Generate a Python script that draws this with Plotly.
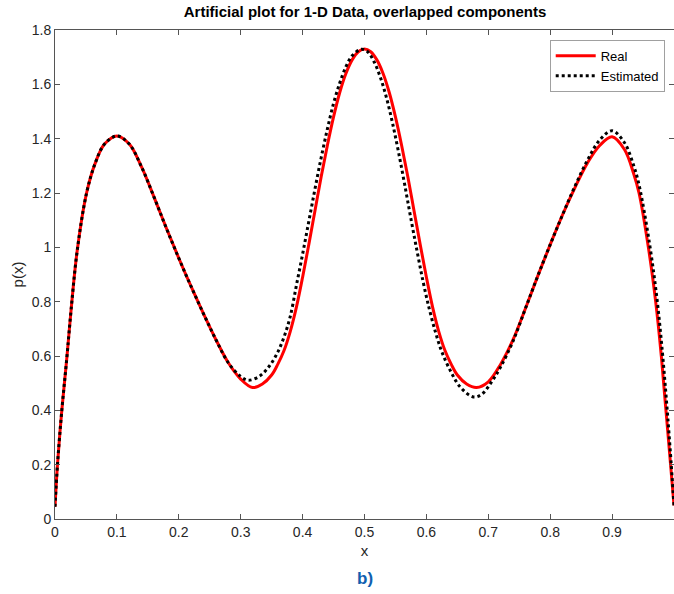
import plotly.graph_objects as go

# ---- data ----
real_x = [0.0, 0.004, 0.011, 0.019, 0.026, 0.036, 0.051, 0.065, 0.08, 0.1, 0.12, 0.14, 0.16,
          0.18, 0.2, 0.22, 0.24, 0.26, 0.28, 0.30, 0.319, 0.335, 0.35, 0.36, 0.37, 0.38, 0.39,
          0.40, 0.41, 0.42, 0.43, 0.44, 0.45, 0.46, 0.47, 0.48, 0.49, 0.5, 0.51, 0.52, 0.53,
          0.54, 0.55, 0.56, 0.57, 0.58, 0.59, 0.60, 0.61, 0.62, 0.63, 0.64, 0.65, 0.665, 0.681,
          0.70, 0.72, 0.74, 0.76, 0.78, 0.80, 0.82, 0.84, 0.86, 0.88, 0.9, 0.92, 0.935, 0.9435,
          0.9586, 0.9704, 0.9795, 0.9866, 0.993, 1.0]
real_y = [0.045, 0.2, 0.4, 0.59, 0.77, 0.99, 1.2, 1.31, 1.38, 1.41, 1.38, 1.295, 1.185,
          1.07, 0.96, 0.855, 0.755, 0.66, 0.575, 0.515, 0.484, 0.497, 0.53, 0.57, 0.62, 0.69, 0.78,
          0.89, 1.01, 1.135, 1.26, 1.375, 1.48, 1.57, 1.64, 1.69, 1.72, 1.73, 1.72, 1.69, 1.64,
          1.57, 1.48, 1.375, 1.26, 1.135, 1.01, 0.89, 0.78, 0.69, 0.62, 0.57, 0.53, 0.497, 0.484,
          0.505, 0.57, 0.66, 0.775, 0.895, 1.01, 1.12, 1.22, 1.31, 1.375, 1.407, 1.36, 1.27, 1.2,
          1.0, 0.8, 0.6, 0.41, 0.24, 0.05]

est_x = [0.0, 0.004, 0.011, 0.019, 0.026, 0.036, 0.051, 0.065, 0.08, 0.1, 0.12, 0.14, 0.16,
         0.18, 0.2, 0.22, 0.24, 0.26, 0.28, 0.30, 0.312, 0.33, 0.347, 0.36, 0.37, 0.38, 0.39,
         0.40, 0.41, 0.42, 0.43, 0.44, 0.45, 0.46, 0.47, 0.48, 0.4946, 0.505, 0.515, 0.525, 0.535,
         0.545, 0.555, 0.565, 0.575, 0.585, 0.595, 0.605, 0.615, 0.625, 0.64, 0.655, 0.676,
         0.69, 0.707, 0.72, 0.74, 0.76, 0.78, 0.80, 0.82, 0.84, 0.86, 0.88, 0.9, 0.92, 0.935,
         0.9435, 0.96, 0.972, 0.981, 0.988, 0.994, 1.0]
est_y = [0.045, 0.2, 0.4, 0.59, 0.77, 0.99, 1.2, 1.31, 1.38, 1.41, 1.38, 1.295, 1.185,
         1.07, 0.96, 0.855, 0.755, 0.66, 0.575, 0.525, 0.511, 0.525, 0.565, 0.615, 0.67, 0.745, 0.86,
         0.975, 1.095, 1.215, 1.33, 1.435, 1.53, 1.605, 1.665, 1.705, 1.729, 1.72, 1.685, 1.63, 1.555,
         1.46, 1.35, 1.23, 1.105, 0.985, 0.87, 0.77, 0.685, 0.615, 0.54, 0.485, 0.449,
         0.46, 0.511, 0.56, 0.655, 0.775, 0.895, 1.01, 1.12, 1.225, 1.32, 1.395, 1.429, 1.385, 1.30,
         1.23, 1.02, 0.82, 0.62, 0.43, 0.25, 0.05]

x_ticks = [0, 0.1, 0.2, 0.3, 0.4, 0.5, 0.6, 0.7, 0.8, 0.9, 1]
x_tick_text = ["0", "0.1", "0.2", "0.3", "0.4", "0.5", "0.6", "0.7", "0.8", "0.9", "1"]
y_ticks = [0, 0.2, 0.4, 0.6, 0.8, 1.0, 1.2, 1.4, 1.6, 1.8]
y_tick_text = ["0", "0.2", "0.4", "0.6", "0.8", "1", "1.2", "1.4", "1.6", "1.8"]

FONT = "Liberation Sans, Arial, Helvetica, sans-serif"
AX = "#262626"

fig = go.Figure()
fig.add_trace(go.Scatter(x=real_x, y=real_y, mode="lines", name="Real",
                         line=dict(color="#ff0000", width=3, shape="spline", smoothing=1)))
fig.add_trace(go.Scatter(x=est_x, y=est_y, mode="lines", name="Estimated",
                         line=dict(color="#000000", width=3, dash="dot", shape="spline", smoothing=1)))

axis_common = dict(showgrid=False, zeroline=False, showline=True, linecolor="#555555",
                   linewidth=1, ticks="inside", ticklen=5, tickcolor="#555555",
                   mirror="allticks", tickfont=dict(family=FONT, size=14, color=AX))

fig.update_layout(
    width=674, height=594,
    margin=dict(l=55, r=0, t=30, b=75),
    paper_bgcolor="white", plot_bgcolor="white",
    font=dict(family=FONT, color=AX),
    title=dict(text="<b>Artificial plot for 1-D Data, overlapped components</b>",
               x=(55 + 310) / 674, xanchor="center", y=1 - 12 / 594, yanchor="middle",
               font=dict(family=FONT, size=15, color="#000000")),
    xaxis=dict(range=[0, 1], tickvals=x_ticks, ticktext=x_tick_text,
               title=dict(text="x", font=dict(family=FONT, size=15, color=AX), standoff=6),
               **axis_common),
    yaxis=dict(range=[0, 1.8], tickvals=y_ticks, ticktext=y_tick_text,
               title=dict(text="p(x)", font=dict(family=FONT, size=15, color=AX), standoff=4),
               **axis_common),
    legend=dict(x=0.985, xanchor="right", y=0.98, yanchor="top",
                bgcolor="white", bordercolor="#a0a0a0", borderwidth=1,
                font=dict(family=FONT, size=13, color="#000000"),
                tracegroupgap=0, itemwidth=40),
    showlegend=True,
    annotations=[dict(text="<b>b)</b>", xref="paper", yref="paper", x=0.5, y=-59 / 489,
                      xanchor="center", yanchor="middle", showarrow=False,
                      font=dict(family=FONT, size=17, color="#1060b0"))],
)

fig.write_html("out.html")
